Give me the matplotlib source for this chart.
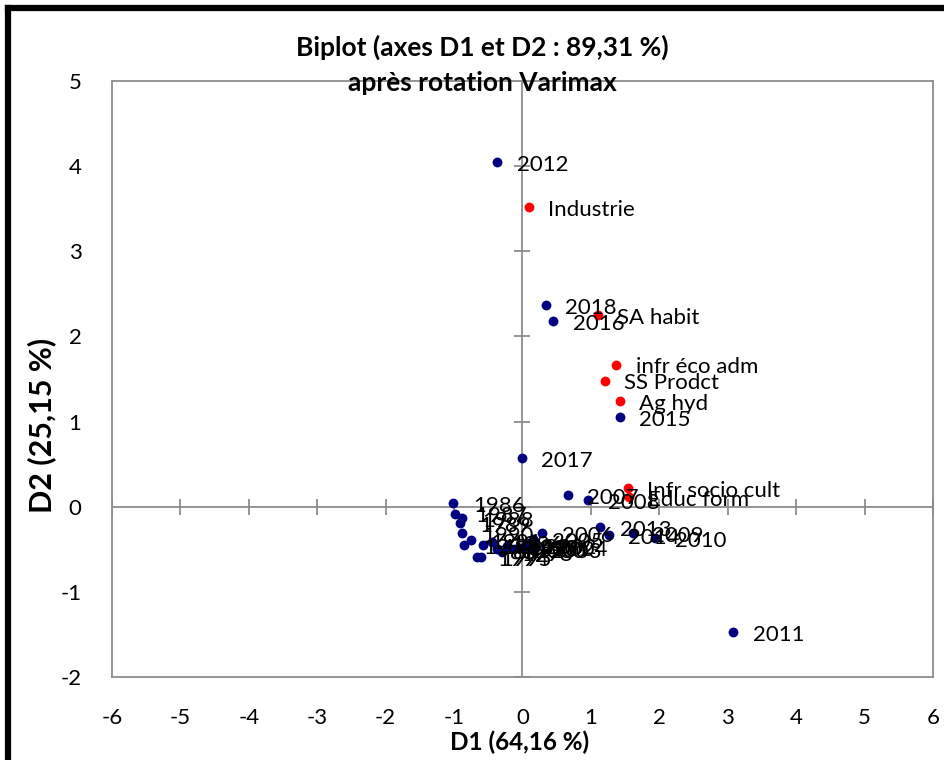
import numpy as np
import matplotlib.pyplot as plt
from matplotlib.lines import Line2D

plt.rcParams['font.family'] = ['Lato', 'DejaVu Sans']

# observations (years), coordinates on D1 / D2
obs_labels = ['1986', '1987', '1988', '1989', '1990', '1991', '1992', '1993', '1994', '1995',
              '1996', '1997', '1998', '1999', '2000', '2001', '2002', '2003', '2004', '2005',
              '2006', '2007', '2008', '2009', '2010', '2011', '2012', '2013', '2014', '2015',
              '2016', '2017', '2018']
obs_d1 = [-1.01, -0.98, -0.88, -0.91, -0.88, -0.76, -0.86, -0.58, -0.66, -0.61,
          -0.45, -0.38, -0.30, -0.22, -0.12, -0.05, 0.05, 0.12, 0.20, 0.15,
          0.29, 0.66, 0.96, 1.61, 1.94, 3.08, -0.37, 1.14, 1.26, 1.42,
          0.45, -0.01, 0.34]
obs_d2 = [0.04, -0.08, -0.13, -0.19, -0.31, -0.39, -0.45, -0.45, -0.59, -0.59,
          -0.42, -0.50, -0.53, -0.46, -0.50, -0.48, -0.45, -0.50, -0.47, -0.38,
          -0.31, 0.14, 0.08, -0.31, -0.37, -1.47, 4.05, -0.24, -0.33, 1.05,
          2.18, 0.57, 2.37]

# variables
var_labels = ['Industrie', 'SA habit', 'infr éco adm', 'SS Prodct', 'Ag hyd',
              'Infr socio cult', 'Educ form']
var_d1 = [0.09, 1.10, 1.37, 1.20, 1.42, 1.54, 1.55]
var_d2 = [3.52, 2.25, 1.67, 1.48, 1.24, 0.22, 0.11]

xticks = np.arange(-6, 7, 1)
yticks = np.arange(-2, 6, 1)

fig = plt.figure(figsize=(9.45, 7.6), dpi=100)
ax = fig.add_axes([112/945, 1 - 677/760, (933 - 112)/945, (677 - 81)/760])

grey = '#8c8c8c'
ax.set_xlim(-6, 6)
ax.set_ylim(-2, 5)
ax.set_xticks(xticks)
ax.set_yticks(yticks)
ax.set_xticklabels([str(t) for t in xticks])
ax.set_yticklabels([str(t) for t in yticks])
ax.tick_params(axis='x', length=0, pad=22, labelsize=16)
ax.tick_params(axis='y', length=0, pad=22, labelsize=16)
for sp in ax.spines.values():
    sp.set_color(grey)
    sp.set_linewidth(1.3)

# axes crossing at origin, with Excel-like tick crosses
ax.axhline(0, color=grey, lw=1.3, zorder=1)
ax.axvline(0, color=grey, lw=1.3, zorder=1)
ax.plot(xticks, np.zeros(len(xticks)), ls='none', marker='|', ms=12, mew=1.3, color=grey, zorder=1)
ax.plot(np.zeros(len(yticks)), yticks, ls='none', marker='_', ms=12, mew=1.3, color=grey, zorder=1)

ax.scatter(obs_d1, obs_d2, s=50, color='#000080', zorder=3, linewidths=0)
ax.scatter(var_d1, var_d2, s=50, color='#ff0000', zorder=3, linewidths=0)

for lab, x, y in zip(obs_labels, obs_d1, obs_d2):
    ax.annotate(lab, (x, y), xytext=(14, -2), textcoords='offset points',
                fontsize=16, va='center', ha='left', zorder=4)
for lab, x, y in zip(var_labels, var_d1, var_d2):
    ax.annotate(lab, (x, y), xytext=(14, -2), textcoords='offset points',
                fontsize=16, va='center', ha='left', zorder=4)

fig.text(482/945, 1 - 47/760, 'Biplot (axes D1 et D2 : 89,31 %)', ha='center', va='center',
         fontsize=19, fontweight='bold')
fig.text(482/945, 1 - 83/760, 'après rotation Varimax', ha='center', va='center',
         fontsize=19, fontweight='bold')
fig.text(520/945, 1 - 742/760, 'D1 (64,16 %)', ha='center', va='center',
         fontsize=17.5, fontweight='bold')
fig.text(42/945, 1 - 425/760, 'D2 (25,15 %)', ha='center', va='center', rotation=90,
         fontsize=22, fontweight='bold')

# outer chart border (only left and top edges are visible in the crop)
fig.add_artist(Line2D([8/945, 8/945], [0, 1 - 8/760], color='black', lw=4.5,
                      transform=fig.transFigure, solid_capstyle='projecting'))
fig.add_artist(Line2D([8/945, 1], [1 - 8/760, 1 - 8/760], color='black', lw=4.5,
                      transform=fig.transFigure, solid_capstyle='projecting'))

fig.savefig('out.png', dpi=100)
